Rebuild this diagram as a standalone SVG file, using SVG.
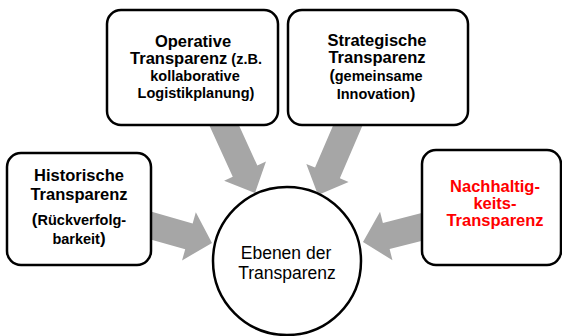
<svg xmlns="http://www.w3.org/2000/svg" width="562" height="336" viewBox="0 0 562 336">
<style>
.box{fill:#fff;stroke:#000;stroke-width:2.5}
.arr{fill:#a6a6a6}
.t{font-family:"Liberation Sans",Arial,sans-serif;font-weight:bold;text-anchor:middle;fill:#000}
.b{font-size:16.5px}
.s{font-size:14.5px}
.red{fill:#ff0000}
.c{font-family:"Liberation Sans",Arial,sans-serif;font-size:17.5px;text-anchor:middle;fill:#000}
</style>
<rect width="562" height="336" fill="#fff"/>
<g id="connectors">
<polygon class="arr" transform="translate(212,243) rotate(16)" points="-72,-13.5 -24,-13.5 -24,-25 0,0 -24,25 -24,13.5 -72,13.5"/>
<polygon class="arr" transform="translate(255,193) rotate(65.5)" points="-82,-13.5 -24,-13.5 -24,-23 0,0 -24,23 -24,13.5 -82,13.5"/>
<polygon class="arr" transform="translate(318,195) rotate(113.2)" points="-82,-13.5 -24,-13.5 -24,-23 0,0 -24,23 -24,13.5 -82,13.5"/>
<polygon class="arr" transform="translate(363,242) rotate(165.6)" points="-68,-13.5 -24,-13.5 -24,-25 0,0 -24,25 -24,13.5 -68,13.5"/>
</g>
<g id="historische">
<rect class="box" x="7" y="153" width="144" height="112" rx="14"/>
<text class="t b" x="79" y="181">Historische</text>
<text class="t b" x="79" y="200">Transparenz</text>
<text class="t s" x="79" y="225"><tspan font-size="17">(</tspan>Rückverfolg-</text>
<text class="t s" x="79" y="244">barkeit<tspan font-size="17">)</tspan></text>
</g>
<g id="operative">
<rect class="box" x="107" y="10" width="171" height="115" rx="14"/>
<text class="t b" x="193" y="47">Operative</text>
<text class="t" x="196" y="64"><tspan class="b">Transparenz</tspan><tspan class="s"> (z.B.</tspan></text>
<text class="t s" x="195" y="81">kollaborative</text>
<text class="t s" x="196" y="98">Logistikplanung)</text>
</g>
<g id="strategische">
<rect class="box" x="288" y="10" width="180" height="115" rx="14"/>
<text class="t b" x="377" y="46">Strategische</text>
<text class="t b" x="377" y="63">Transparenz</text>
<text class="t s" x="376" y="81"><tspan font-size="16">(</tspan>gemeinsame</text>
<text class="t s" x="376" y="99">Innovation<tspan font-size="16">)</tspan></text>
</g>
<g id="nachhaltigkeit">
<rect class="box" x="422" y="150" width="139" height="115" rx="14"/>
<text class="t b red" x="495" y="192">Nachhaltig-</text>
<text class="t b red" x="495" y="209">keits-</text>
<text class="t b red" x="495" y="226">Transparenz</text>
</g>
<g id="ebenen">
<circle cx="287" cy="261" r="74" fill="#fff" stroke="#000" stroke-width="2.5"/>
<text class="c" x="286" y="259">Ebenen der</text>
<text class="c" x="287" y="279">Transparenz</text>
</g>
</svg>
